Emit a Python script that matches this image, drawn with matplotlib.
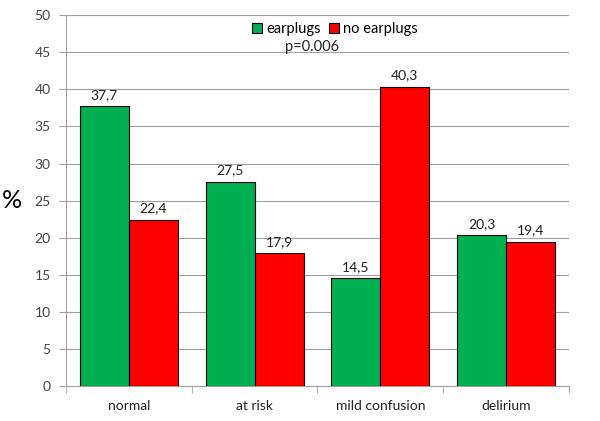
import matplotlib.pyplot as plt
import numpy as np

categorias = ['normal', 'at risk', 'mild confusion', 'delirium']
earplugs = [37.7, 27.5, 14.5, 20.3]
no_earplugs = [22.4, 17.9, 40.3, 19.4]

plt.rcParams['font.family'] = ['Lato', 'DejaVu Sans']

fig = plt.figure(figsize=(6, 4.21), dpi=100)
ax = fig.add_axes([0.11, 0.083, 0.838, 0.881])

x = np.arange(len(categorias))
w = 0.39
verde = '#00B050'
rojo = '#FF0000'

b1 = ax.bar(x - w / 2, earplugs, w, color=verde, edgecolor='black', linewidth=0.8,
            label='earplugs', zorder=3)
b2 = ax.bar(x + w / 2, no_earplugs, w, color=rojo, edgecolor='black', linewidth=0.8,
            label='no earplugs', zorder=3)

# etiquetas con coma decimal
for barras, vals in ((b1, earplugs), (b2, no_earplugs)):
    for b, v in zip(barras, vals):
        ax.annotate(str(v).replace('.', ','), (b.get_x() + b.get_width() / 2, v),
                    xytext=(0, 4), textcoords='offset points', ha='center', va='bottom',
                    fontsize=10, color='#222222')

ax.set_xlim(-0.5, len(categorias) - 0.5)
ax.set_ylim(0, 50)
ax.set_yticks(np.arange(0, 51, 5))
ax.yaxis.grid(True, color='#a0a0a0', linewidth=0.8, zorder=0)
ax.set_axisbelow(True)

ax.set_xticks(x)
ax.set_xticklabels(categorias)
ax.set_xticks(np.arange(-0.5, len(categorias), 1), minor=True)
ax.tick_params(axis='x', which='major', length=0, pad=10, labelsize=10, labelcolor='#222222')
ax.tick_params(axis='x', which='minor', length=5, color='#a0a0a0')
ax.tick_params(axis='y', length=5, color='#a0a0a0', labelsize=10, labelcolor='#444444', pad=6)

for s in ('top', 'right'):
    ax.spines[s].set_visible(False)
for s in ('left', 'bottom'):
    ax.spines[s].set_color('#a0a0a0')
    ax.spines[s].set_linewidth(0.8)

ax.set_ylabel('%', rotation=0, fontsize=18, labelpad=16, va='center')

leg = ax.legend(loc='upper center', bbox_to_anchor=(0.535, 1.0), ncol=2, frameon=False,
                fontsize=10.5, handlelength=0.7, handleheight=0.7, handletextpad=0.3,
                columnspacing=0.5, borderaxespad=0.1)
ax.text(0.49, 0.915, 'p=0.006', transform=ax.transAxes, ha='center', va='center',
        fontsize=10.5, color='#222222')

fig.savefig('out.png', dpi=100)
